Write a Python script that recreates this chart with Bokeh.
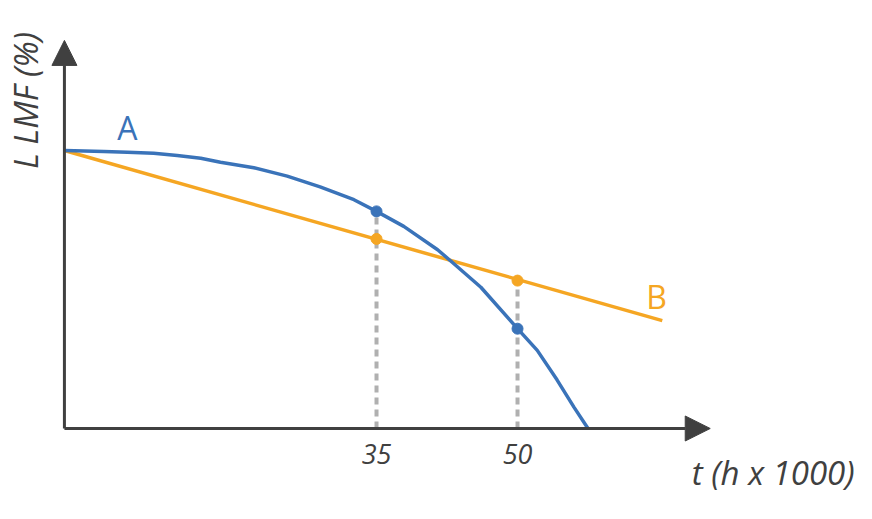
from bokeh.plotting import figure
from bokeh.models import Range1d, Arrow, NormalHead
from bokeh.core.properties import value
from bokeh.embed import file_html
from bokeh.resources import INLINE
import math

# ---- data ----
t_A = [1.8, 6.0, 8.5, 11.3, 13.8, 16.3, 18.4, 21.95, 25.5, 29.0, 32.6, 35.0, 37.9, 41.5, 43.05,
       46.1, 50.0, 52.1, 54.2, 56.0, 57.5]
y_A = [100, 99.6, 99.4, 99.0, 98.2, 97.2, 95.8, 93.8, 90.8, 86.9, 82.3, 78.1, 72.7, 64.3, 59.8,
       50.8, 35.9, 28.1, 17.5, 7.7, 0]

t_B = [1.8, 65.4]
y_B = [100, 38.8]

mark_t = [35, 50]
mark_A = [78.1, 35.9]
mark_B = [68.2, 53.2]
drop_top = [78.1, 53.2]
tick_labels = ["35", "50"]

origin_t = 1.8
x_tip = 70.5
y_tip = 139.6

BLUE = "#3a73b9"
ORANGE = "#f5a623"
AXIS = "#404040"
GREY = "#b0b0b0"
FONT = value("Open Sans")

p = figure(width=856, height=503, x_range=Range1d(-5.0, 86.06), y_range=Range1d(-26.98, 153.96),
           output_backend="svg", toolbar_location=None, x_axis_location=None, y_axis_location=None,
           min_border=0, outline_line_color=None)
p.grid.visible = False
p.background_fill_color = "white"
p.border_fill_color = "white"

# dashed drop lines
p.segment(x0=mark_t, y0=[0, 0], x1=mark_t, y1=drop_top, line_color=GREY, line_width=4, line_dash="7 5")

# axes with arrow heads
p.add_layout(Arrow(x_start=origin_t, y_start=0, x_end=x_tip, y_end=0, line_color=AXIS, line_width=3,
                   end=NormalHead(size=25, fill_color=AXIS, line_color=AXIS)))
p.add_layout(Arrow(x_start=origin_t, y_start=0, x_end=origin_t, y_end=y_tip, line_color=AXIS, line_width=3,
                   end=NormalHead(size=25, fill_color=AXIS, line_color=AXIS)))

# curves
p.line(t_B, y_B, line_color=ORANGE, line_width=3.5)
p.line(t_A, y_A, line_color=BLUE, line_width=3.5, line_join="round")
p.scatter(mark_t, mark_B, size=11, fill_color=ORANGE, line_color=ORANGE)
p.scatter(mark_t, mark_A, size=11, fill_color=BLUE, line_color=BLUE)

# labels
p.text(x=[8.5], y=[108.3], text=["A"], text_color=BLUE, text_font=FONT, text_font_size="32px",
       text_align="center", text_baseline="middle")
p.text(x=[64.8], y=[47.5], text=["B"], text_color=ORANGE, text_font=FONT, text_font_size="32px",
       text_align="center", text_baseline="middle")

p.text(x=mark_t, y=[-9, -9], text=tick_labels, text_color=AXIS, text_font=FONT, text_font_size="27px",
       text_font_style="italic", text_align="center", text_baseline="middle")

p.text(x=[77.2], y=[-15.8], text=["t (h x 1000)"], text_color=AXIS, text_font=FONT, text_font_size="33px",
       text_font_style="italic", text_align="center", text_baseline="middle")
p.text(x=[-2.34], y=[118], text=["L LMF (%)"], text_color=AXIS, text_font=FONT, text_font_size="33px",
       text_font_style="italic", text_align="center", text_baseline="middle", angle=math.pi / 2)

open("out.html", "w").write(file_html(p, INLINE))
